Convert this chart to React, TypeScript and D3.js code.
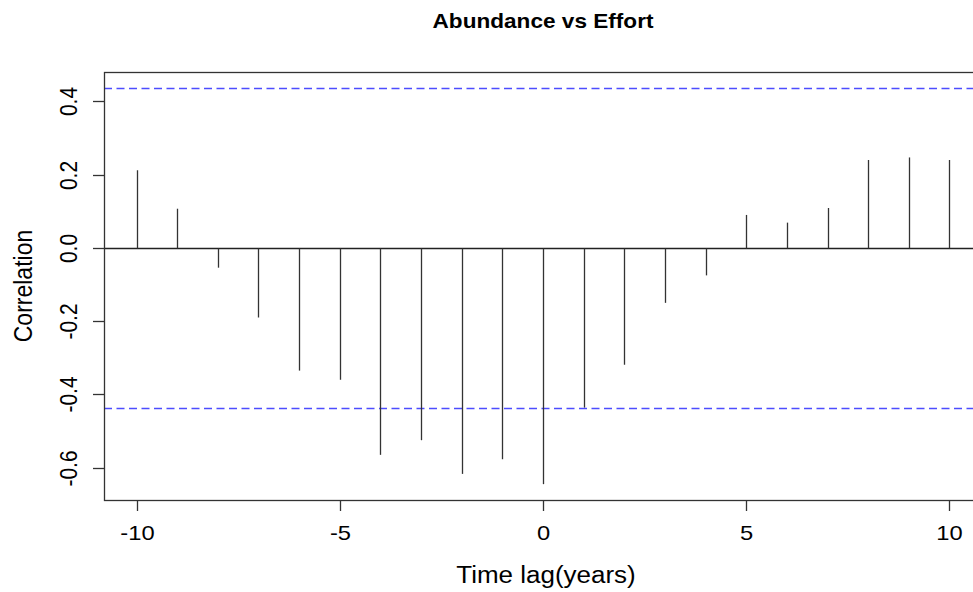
import * as d3 from "d3";

// cross-correlation, Abundance vs Effort
const lags = [-10, -9, -8, -7, -6, -5, -4, -3, -2, -1, 0, 1, 2, 3, 4, 5, 6, 7, 8, 9, 10];
const acf = [
  0.212, 0.107, -0.054, -0.19, -0.335, -0.36, -0.565, -0.525, -0.617, -0.577, -0.645,
  -0.436, -0.319, -0.15, -0.075, 0.09, 0.069, 0.109, 0.24, 0.247, 0.24,
];
const ci = 0.437;
const yTicks = [-0.6, -0.4, -0.2, 0.0, 0.2, 0.4];
const xTicks = [-10, -5, 0, 5, 10];

const W = 973;
const H = 592;
const left = 104;
const right = 982; // the box runs off the right edge, like the original
const top = 72;
const bottom = 500;
const sx = 1.13; // the original text is a bit wider than tall

const font = "'Liberation Sans', Arial, Helvetica, sans-serif";

export default function App() {
  const xr = d3.extent(lags) as [number, number];
  const xPad = (xr[1] - xr[0]) * 0.04;
  const x = d3.scaleLinear().domain([xr[0] - xPad, xr[1] + xPad]).range([left, right]);

  const yLo = Math.min(d3.min(acf)!, -ci);
  const yHi = Math.max(d3.max(acf)!, ci);
  const yPad = (yHi - yLo) * 0.04;
  const y = d3.scaleLinear().domain([yLo - yPad, yHi + yPad]).range([bottom, top]);

  const y0 = Math.round(y(0)) + 0.5;

  return (
    <svg
      width={W}
      height={H}
      style={{ position: "absolute", left: 0, top: 0, background: "#fff" }}
      fontFamily={font}
    >
      {/* title */}
      <text
        transform={`translate(543,28) scale(${sx},1)`}
        textAnchor="middle"
        fontWeight="bold"
        fontSize={20}
        fill="#000"
      >
        Abundance vs Effort
      </text>

      {/* CI lines */}
      {[ci, -ci].map((c) => (
        <line
          key={c}
          x1={left}
          x2={right}
          y1={Math.round(y(c)) + 0.5}
          y2={Math.round(y(c)) + 0.5}
          stroke="#4d4dff"
          strokeWidth={1.4}
          strokeDasharray="8,4.5"
        />
      ))}

      {/* zero line */}
      <line x1={left} x2={right} y1={y0} y2={y0} stroke="#222" strokeWidth={1.3} />

      {/* spikes */}
      {lags.map((l, i) => {
        const px = Math.round(x(l)) + 0.5;
        return (
          <line key={l} x1={px} x2={px} y1={y0} y2={y(acf[i])} stroke="#333" strokeWidth={1.3} />
        );
      })}

      {/* box */}
      <rect
        x={left + 0.5}
        y={top + 0.5}
        width={right - left}
        height={bottom - top}
        fill="none"
        stroke="#333"
        strokeWidth={1.3}
      />

      {/* y axis */}
      {yTicks.map((t) => {
        const py = Math.round(y(t)) + 0.5;
        return (
          <g key={t}>
            <line x1={left - 11} x2={left} y1={py} y2={py} stroke="#333" strokeWidth={1.3} />
            <text
              transform={`translate(77,${py}) scale(${sx},1) rotate(-90)`}
              textAnchor="middle"
              fontSize={21}
              fill="#000"
            >
              {t.toFixed(1)}
            </text>
          </g>
        );
      })}

      {/* x axis */}
      {xTicks.map((t) => {
        const px = Math.round(x(t)) + 0.5;
        return (
          <g key={t}>
            <line x1={px} x2={px} y1={bottom} y2={bottom + 11} stroke="#333" strokeWidth={1.3} />
            <text
              transform={`translate(${px},540) scale(${sx},1)`}
              textAnchor="middle"
              fontSize={21}
              fill="#000"
            >
              {t}
            </text>
          </g>
        );
      })}

      {/* axis titles */}
      <text
        transform={`translate(546,583) scale(${sx},1)`}
        textAnchor="middle"
        fontSize={23}
        fill="#000"
      >
        Time lag(years)
      </text>
      <text
        transform={`translate(32,${(top + bottom) / 2}) scale(${sx},1) rotate(-90)`}
        textAnchor="middle"
        fontSize={23}
        fill="#000"
      >
        Correlation
      </text>
    </svg>
  );
}
